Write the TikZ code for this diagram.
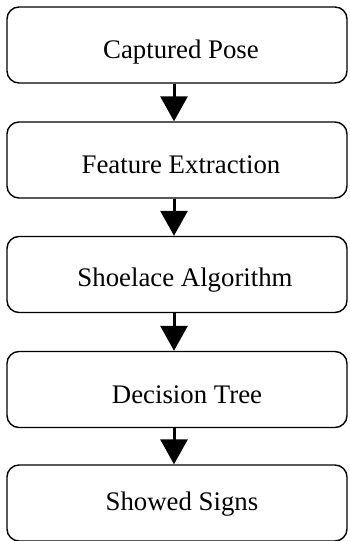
\documentclass[tikz,border=0pt]{standalone}
\usepackage{fontspec}
\setmainfont{Liberation Serif}
\usetikzlibrary{arrows.meta}

\begin{document}
\begin{tikzpicture}[x=1pt,y=1pt,
  stage/.style={draw, line width=1.4pt, rounded corners=12pt,
    minimum width=340pt, minimum height=76pt, inner sep=0pt},
  caption/.style={font=\fontsize{26.8}{30}\selectfont},
  flow/.style={line width=3pt, -{Triangle[length=25pt,width=27pt]}}]

\useasboundingbox (0,0) rectangle (349,541);

% stages
\node[stage] (pose)     at (177,496)   {};
\node[stage] (feature)  at (177,381)   {};
\node[stage] (shoelace) at (177,266.5) {};
\node[stage] (tree)     at (177,151.5) {};
\node[stage] (signs)    at (177,38)    {};

% labels
\node[caption] at ([xshift=4pt,yshift=-7pt]pose.center)     {Captured Pose};
\node[caption] at ([xshift=4pt,yshift=-5pt]feature.center)  {Feature Extraction};
\node[caption] at ([xshift=8pt,yshift=-6pt]shoelace.center) {Shoelace Algorithm};
\node[caption] at ([xshift=10pt,yshift=-5pt]tree.center)    {Decision Tree};
\node[caption] at ([xshift=5pt,yshift=-1pt]signs.center)    {Showed Signs};

% arrows
\draw[flow] ([xshift=-3pt]pose.south)     -- ([xshift=-3pt]feature.north);
\draw[flow] ([xshift=-3pt]feature.south)  -- ([xshift=-3pt]shoelace.north);
\draw[flow] ([xshift=-3pt]shoelace.south) -- ([xshift=-3pt]tree.north);
\draw[flow] ([xshift=-3pt]tree.south)     -- ([xshift=-3pt]signs.north);

\end{tikzpicture}
\end{document}
